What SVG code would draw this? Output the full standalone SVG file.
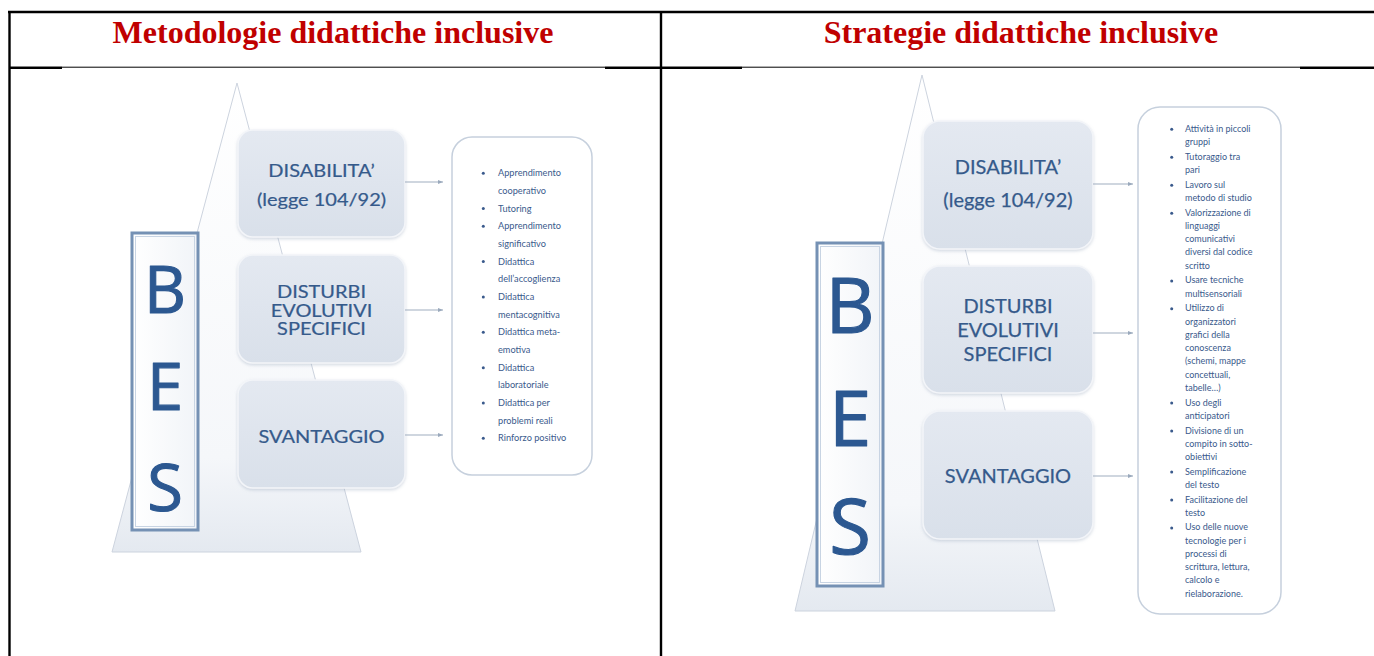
<svg xmlns="http://www.w3.org/2000/svg" width="1374" height="656" viewBox="0 0 1374 656">
  <defs>
    <linearGradient id="triFill" x1="0" y1="0" x2="0" y2="1">
      <stop offset="0" stop-color="#ffffff"/>
      <stop offset="0.8" stop-color="#f5f7fa"/>
      <stop offset="1" stop-color="#e4e9f0"/>
    </linearGradient>
    <linearGradient id="boxFill" x1="0" y1="0" x2="0" y2="1">
      <stop offset="0" stop-color="#e4e9f1"/>
      <stop offset="1" stop-color="#d9e0ea"/>
    </linearGradient>
    <linearGradient id="besFill" x1="0" y1="0" x2="1" y2="0">
      <stop offset="0" stop-color="#ffffff"/>
      <stop offset="1" stop-color="#f1f4f8"/>
    </linearGradient>
    <filter id="soft" x="-10%" y="-10%" width="120%" height="130%">
      <feDropShadow dx="0" dy="1.5" stdDeviation="1.5" flood-color="#8a9bb3" flood-opacity="0.35"/>
    </filter>
    <marker id="arrow" markerWidth="6" markerHeight="6" refX="5" refY="3" orient="auto" markerUnits="userSpaceOnUse">
      <path d="M0,1 L5,3 L0,5 z" fill="#9aa9bc"/>
    </marker>
  </defs>
  <style>
    .title{font-family:"Liberation Serif","Times New Roman",serif;font-weight:bold;font-size:32px;fill:#c00000;text-anchor:middle}
    .rule{stroke:#000;fill:none}
    .tri{fill:url(#triFill);stroke:#ccd3de;stroke-width:1}
    .bes{fill:url(#besFill);stroke:#7591b4;stroke-width:3}
    .besIn{fill:none;stroke:#c8d4e3;stroke-width:1}
    .letter{font-family:"Open Sans",Lato,sans-serif;font-weight:400;fill:#2c5891;stroke:#2c5891;stroke-width:1.1;stroke-linejoin:round;text-anchor:middle}
    .box{fill:url(#boxFill);stroke:#f3f5f9;stroke-width:1.5;filter:url(#soft)}
    .lbl{font-family:Lato,"Open Sans",sans-serif;font-size:20px;fill:#355a8b;stroke:#355a8b;stroke-width:0.25;text-anchor:middle}
    .conn{stroke:#9fadbf;stroke-width:1;fill:none;marker-end:url(#arrow)}
    .list{fill:#ffffff;stroke:#c6d0dd;stroke-width:1.5}
    .item{font-family:Lato,"Open Sans",sans-serif;fill:#3a5a8c}
    .dot{fill:#3a5a8c}
  </style>

  <rect width="1374" height="656" fill="#ffffff"/>

  <!-- table frame -->
  <g id="table">
    <line class="rule" x1="8" y1="12" x2="1374" y2="12" stroke-width="2.4"/>
    <line class="rule" x1="9.5" y1="11" x2="9.5" y2="656" stroke-width="2.4"/>
    <line class="rule" x1="661" y1="11" x2="661" y2="656" stroke-width="2.4"/>
    <line class="rule" x1="9" y1="67.2" x2="1374" y2="67.2" stroke-width="1"/>
    <line class="rule" x1="9" y1="67.8" x2="62" y2="67.8" stroke-width="2.2"/>
    <line class="rule" x1="605" y1="67.8" x2="742" y2="67.8" stroke-width="2.2"/>
    <line class="rule" x1="1300" y1="67.8" x2="1374" y2="67.8" stroke-width="2.2"/>
    <text class="title" x="333" y="43">Metodologie didattiche inclusive</text>
    <text class="title" x="1021" y="43">Strategie didattiche inclusive</text>
  </g>

  <!-- ===== left panel: methodologies ===== -->
  <g id="left-base">
    <polygon class="tri" points="237,83 112,552 361,552"/>
    <rect class="bes" x="132" y="233" width="66" height="297"/>
    <rect class="besIn" x="135.5" y="236.5" width="59" height="290"/>
    <text class="letter" x="165" y="312.5" font-size="65">B</text>
    <text class="letter" x="165" y="409.5" font-size="65">E</text>
    <text class="letter" x="165" y="510.5" font-size="65">S</text>
  </g>

  <g id="left-disabilita">
    <rect class="box" x="238" y="130" width="167" height="107" rx="15"/>
    <text class="lbl" transform="translate(321.5,177) scale(1,0.82)">DISABILITA’</text>
    <text class="lbl" transform="translate(321.5,206) scale(1,0.82)">(legge 104/92)</text>
  </g>
  <g id="left-disturbi">
    <rect class="box" x="238" y="255" width="167" height="108" rx="15"/>
    <text class="lbl" transform="translate(321.5,298) scale(1,0.82)">DISTURBI</text>
    <text class="lbl" transform="translate(321.5,316.5) scale(1,0.82)">EVOLUTIVI</text>
    <text class="lbl" transform="translate(321.5,335) scale(1,0.82)">SPECIFICI</text>
  </g>
  <g id="left-svantaggio">
    <rect class="box" x="238" y="380" width="167" height="108" rx="15"/>
    <text class="lbl" transform="translate(321.5,443) scale(1,0.82)">SVANTAGGIO</text>
  </g>

  <g id="left-list">
    <rect class="list" x="452" y="137" width="140" height="338" rx="20"/>
    <g class="dot">
      <circle cx="483.3" cy="173.3" r="1.5"/>
      <circle cx="483.3" cy="208.6" r="1.5"/>
      <circle cx="483.3" cy="226.3" r="1.5"/>
      <circle cx="483.3" cy="261.6" r="1.5"/>
      <circle cx="483.3" cy="297.0" r="1.5"/>
      <circle cx="483.3" cy="332.3" r="1.5"/>
      <circle cx="483.3" cy="367.7" r="1.5"/>
      <circle cx="483.3" cy="403.0" r="1.5"/>
      <circle cx="483.3" cy="438.3" r="1.5"/>
    </g>
    <text class="item" font-size="9.2">
      <tspan x="498" y="176.3">Apprendimento</tspan>
      <tspan x="498" y="194.0">cooperativo</tspan>
      <tspan x="498" y="211.6">Tutoring</tspan>
      <tspan x="498" y="229.3">Apprendimento</tspan>
      <tspan x="498" y="247.0">significativo</tspan>
      <tspan x="498" y="264.6">Didattica</tspan>
      <tspan x="498" y="282.3">dell’accoglienza</tspan>
      <tspan x="498" y="300.0">Didattica</tspan>
      <tspan x="498" y="317.7">mentacognitiva</tspan>
      <tspan x="498" y="335.3">Didattica meta-</tspan>
      <tspan x="498" y="353.0">emotiva</tspan>
      <tspan x="498" y="370.7">Didattica</tspan>
      <tspan x="498" y="388.3">laboratoriale</tspan>
      <tspan x="498" y="406.0">Didattica per</tspan>
      <tspan x="498" y="423.7">problemi reali</tspan>
      <tspan x="498" y="441.3">Rinforzo positivo</tspan>
    </text>
  </g>

  <!-- ===== right panel: strategies ===== -->
  <g id="right-base">
    <polygon class="tri" points="922,75 795,611 1055,611"/>
    <rect class="bes" x="817" y="243" width="66" height="343"/>
    <rect class="besIn" x="820.5" y="246.5" width="59" height="336"/>
    <text class="letter" x="850" y="332.5" font-size="76">B</text>
    <text class="letter" x="850" y="445.5" font-size="76">E</text>
    <text class="letter" x="850" y="553.5" font-size="76">S</text>
  </g>

  <g id="right-disabilita">
    <rect class="box" x="923" y="121" width="170" height="128" rx="17"/>
    <text class="lbl" x="1008" y="174">DISABILITA’</text>
    <text class="lbl" x="1008" y="207">(legge 104/92)</text>
  </g>
  <g id="right-disturbi">
    <rect class="box" x="923" y="266" width="170" height="127" rx="17"/>
    <text class="lbl" x="1008" y="313">DISTURBI</text>
    <text class="lbl" x="1008" y="337">EVOLUTIVI</text>
    <text class="lbl" x="1008" y="361">SPECIFICI</text>
  </g>
  <g id="right-svantaggio">
    <rect class="box" x="923" y="411" width="170" height="128" rx="17"/>
    <text class="lbl" x="1008" y="483">SVANTAGGIO</text>
  </g>

  <g id="right-list">
    <rect class="list" x="1138" y="107" width="143" height="507" rx="22"/>
    <g class="dot">
      <circle cx="1171.7" cy="129.3" r="1.5"/>
      <circle cx="1171.7" cy="157.3" r="1.5"/>
      <circle cx="1171.7" cy="185.2" r="1.5"/>
      <circle cx="1171.7" cy="213.2" r="1.5"/>
      <circle cx="1171.7" cy="280.9" r="1.5"/>
      <circle cx="1171.7" cy="308.8" r="1.5"/>
      <circle cx="1171.7" cy="403.0" r="1.5"/>
      <circle cx="1171.7" cy="431.0" r="1.5"/>
      <circle cx="1171.7" cy="472.0" r="1.5"/>
      <circle cx="1171.7" cy="500.0" r="1.5"/>
      <circle cx="1171.7" cy="527.9" r="1.5"/>
    </g>
    <text class="item" font-size="9">
      <tspan x="1185" y="131.8">Attività in piccoli</tspan>
      <tspan x="1185" y="145.1">gruppi</tspan>
      <tspan x="1185" y="159.8">Tutoraggio tra</tspan>
      <tspan x="1185" y="173.0">pari</tspan>
      <tspan x="1185" y="187.7">Lavoro sul</tspan>
      <tspan x="1185" y="201.0">metodo di studio</tspan>
      <tspan x="1185" y="215.7">Valorizzazione di</tspan>
      <tspan x="1185" y="228.9">linguaggi</tspan>
      <tspan x="1185" y="242.2">comunicativi</tspan>
      <tspan x="1185" y="255.4">diversi dal codice</tspan>
      <tspan x="1185" y="268.7">scritto</tspan>
      <tspan x="1185" y="283.4">Usare tecniche</tspan>
      <tspan x="1185" y="296.6">multisensoriali</tspan>
      <tspan x="1185" y="311.3">Utilizzo di</tspan>
      <tspan x="1185" y="324.6">organizzatori</tspan>
      <tspan x="1185" y="337.8">grafici della</tspan>
      <tspan x="1185" y="351.1">conoscenza</tspan>
      <tspan x="1185" y="364.3">(schemi, mappe</tspan>
      <tspan x="1185" y="377.6">concettuali,</tspan>
      <tspan x="1185" y="390.8">tabelle…)</tspan>
      <tspan x="1185" y="405.5">Uso degli</tspan>
      <tspan x="1185" y="418.8">anticipatori</tspan>
      <tspan x="1185" y="433.5">Divisione di un</tspan>
      <tspan x="1185" y="446.7">compito in sotto-</tspan>
      <tspan x="1185" y="460.0">obiettivi</tspan>
      <tspan x="1185" y="474.5">Semplificazione</tspan>
      <tspan x="1185" y="487.8">del testo</tspan>
      <tspan x="1185" y="502.5">Facilitazione del</tspan>
      <tspan x="1185" y="515.7">testo</tspan>
      <tspan x="1185" y="530.4">Uso delle nuove</tspan>
      <tspan x="1185" y="543.7">tecnologie per i</tspan>
      <tspan x="1185" y="556.9">processi di</tspan>
      <tspan x="1185" y="570.2">scrittura, lettura,</tspan>
      <tspan x="1185" y="583.4">calcolo e</tspan>
      <tspan x="1185" y="596.7">rielaborazione.</tspan>
    </text>
  </g>

  <!-- connectors from each category box to its list -->
  <g id="connectors">
    <line class="conn" x1="405" y1="182" x2="443" y2="182"/>
    <line class="conn" x1="405" y1="310" x2="443" y2="310"/>
    <line class="conn" x1="405" y1="435" x2="443" y2="435"/>
    <line class="conn" x1="1093" y1="184" x2="1133" y2="184"/>
    <line class="conn" x1="1093" y1="333" x2="1133" y2="333"/>
    <line class="conn" x1="1093" y1="476" x2="1133" y2="476"/>
  </g>
</svg>
